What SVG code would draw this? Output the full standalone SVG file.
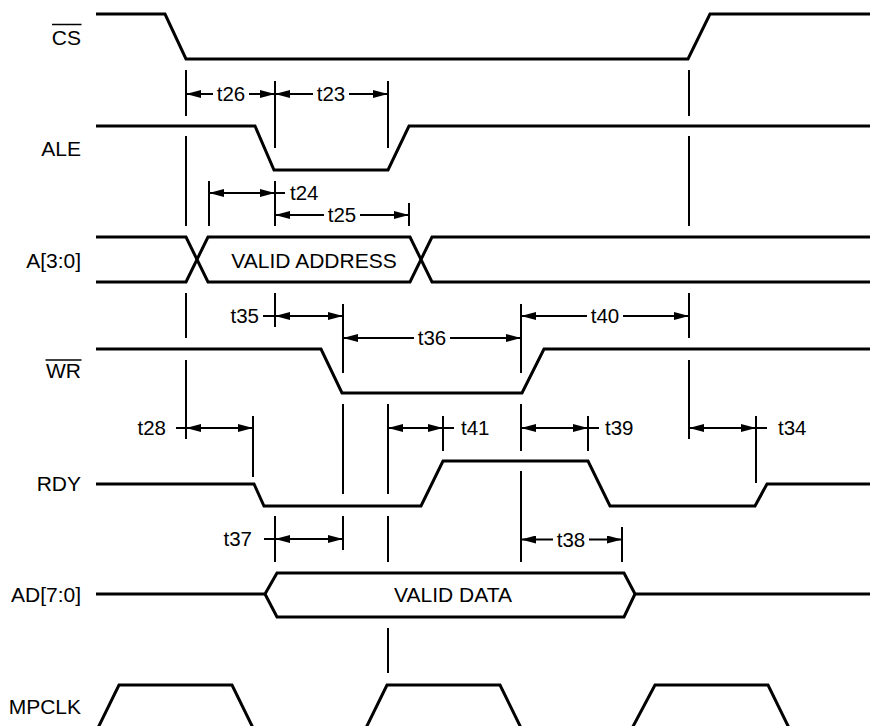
<svg xmlns="http://www.w3.org/2000/svg" width="870" height="726" viewBox="0 0 870 726">
<defs>
<style>
.sig{fill:none;stroke:#000;stroke-width:3;stroke-linejoin:miter}
.ref{fill:none;stroke:#000;stroke-width:2}
.dim{fill:none;stroke:#000;stroke-width:2}
.arr{marker-start:url(#ah);marker-end:url(#ah)}
.arrE{marker-end:url(#ah)}
.arrS{marker-start:url(#ah)}
.lbl{font-family:"Liberation Sans",Arial,sans-serif;font-size:21px;fill:#000}
.tl{font-family:"Liberation Sans",Arial,sans-serif;font-size:20.5px;fill:#000}
.ov{stroke:#000;stroke-width:1.5}
</style>
<marker id="ah" viewBox="0 0 15 8" refX="15" refY="4" markerWidth="15" markerHeight="8" markerUnits="userSpaceOnUse" orient="auto-start-reverse">
<path d="M0,0 L15,4 L0,8 z" fill="#000"/>
</marker>
</defs>
<rect width="870" height="726" fill="#fff"/>

<g id="cs">
<text class="lbl" x="81" y="45" text-anchor="end">CS</text>
<line class="ov" x1="52" y1="24.5" x2="81.5" y2="24.5"/>
<path class="sig" d="M96,14 H165 L186,59 H688 L710,14 H870"/>
</g>
<g id="ale">
<text class="lbl" x="81" y="156" text-anchor="end">ALE</text>
<path class="sig" d="M96,126 H255 L274,170 H388 L409,126 H870"/>
</g>
<g id="addr">
<text class="lbl" x="81" y="268" text-anchor="end">A[3:0]</text>
<path class="sig" d="M96,237 H186 L208,282 H410 L432,237 H870"/>
<path class="sig" d="M96,282 H186 L208,237 H410 L432,282 H870"/>
<text class="lbl" x="314" y="268" text-anchor="middle">VALID ADDRESS</text>
</g>
<g id="wr">
<text class="lbl" x="81" y="378" text-anchor="end">WR</text>
<line class="ov" x1="45.5" y1="360" x2="81.5" y2="360"/>
<path class="sig" d="M96,349 H321 L342,393 H522 L544,349 H870"/>
</g>
<g id="rdy">
<text class="lbl" x="81" y="490.5" text-anchor="end">RDY</text>
<path class="sig" d="M96,484 H254 L264,506 H421 L443,461 H588 L610,506 H755 L767,484 H870"/>
</g>
<g id="ad">
<text class="lbl" x="81" y="601.5" text-anchor="end">AD[7:0]</text>
<path class="sig" d="M96,594 H265 L277,573 H624 L635,594 H870"/>
<path class="sig" d="M265,594 L277,617 H624 L635,594"/>
<text class="lbl" x="453" y="601.5" text-anchor="middle">VALID DATA</text>
</g>
<g id="mpclk">
<text class="lbl" x="81" y="714" text-anchor="end">MPCLK</text>
<path class="sig" d="M95,734 L119,685 H232 L256,734"/>
<path class="sig" d="M363,734 L387,685 H500 L524,734"/>
<path class="sig" d="M629,734 L655,685 H768 L792,734"/>
</g>

<g id="connectors">
<path class="ref" d="M186,70 V116 M186,136 V226 M186,293 V338 M186,360 V439
M689,70 V116 M689,136 V226 M689,293 V338 M689,360 V439
M275,81 V148 M275,181 V226 M275,293 V327 M275,516 V562
M388,81 V148 M388,404 V494 M388,516 V562 M388,628 V673
M209,181 V226 M409,203 V226
M343,304 V373 M343,404 V494 M343,516 V550
M521,304 V373 M521,404 V451 M521,471 V562
M253,416 V477 M443,416 V451 M588,416 V451 M756,416 V483 M622,527 V562"/>

<!-- t26 -->
<line class="dim arrS" x1="186" y1="94" x2="213" y2="94"/>
<line class="dim arrE" x1="249" y1="94" x2="275" y2="94"/>
<text class="tl" x="231" y="101" text-anchor="middle">t26</text>
<!-- t23 -->
<line class="dim arrS" x1="275" y1="94" x2="313" y2="94"/>
<line class="dim arrE" x1="349" y1="94" x2="388" y2="94"/>
<text class="tl" x="331" y="101" text-anchor="middle">t23</text>
<!-- t24 -->
<line class="dim arr" x1="209" y1="193" x2="275" y2="193"/>
<line class="dim" x1="275" y1="193" x2="285" y2="193"/>
<text class="tl" x="290" y="200">t24</text>
<!-- t25 -->
<line class="dim arrS" x1="275" y1="215" x2="324" y2="215"/>
<line class="dim arrE" x1="360" y1="215" x2="409" y2="215"/>
<text class="tl" x="342" y="222" text-anchor="middle">t25</text>
<!-- t35 -->
<line class="dim arr" x1="275" y1="316" x2="343" y2="316"/>
<line class="dim" x1="263" y1="316" x2="275" y2="316"/>
<text class="tl" x="259" y="323" text-anchor="end">t35</text>
<!-- t36 -->
<line class="dim arrS" x1="343" y1="338" x2="414" y2="338"/>
<line class="dim arrE" x1="450" y1="338" x2="521" y2="338"/>
<text class="tl" x="432" y="345" text-anchor="middle">t36</text>
<!-- t40 -->
<line class="dim arrS" x1="521" y1="316" x2="587" y2="316"/>
<line class="dim arrE" x1="623" y1="316" x2="689" y2="316"/>
<text class="tl" x="605" y="323" text-anchor="middle">t40</text>
<!-- t28 -->
<line class="dim arr" x1="186" y1="428" x2="253" y2="428"/>
<line class="dim" x1="176" y1="428" x2="186" y2="428"/>
<text class="tl" x="166" y="435" text-anchor="end">t28</text>
<!-- t41 -->
<line class="dim arr" x1="388" y1="428" x2="443" y2="428"/>
<line class="dim" x1="443" y1="428" x2="454" y2="428"/>
<text class="tl" x="461" y="435">t41</text>
<!-- t39 -->
<line class="dim arr" x1="521" y1="428" x2="588" y2="428"/>
<line class="dim" x1="588" y1="428" x2="599" y2="428"/>
<text class="tl" x="605" y="435">t39</text>
<!-- t34 -->
<line class="dim arr" x1="689" y1="428" x2="756" y2="428"/>
<line class="dim" x1="756" y1="428" x2="767" y2="428"/>
<text class="tl" x="778" y="435">t34</text>
<!-- t37 -->
<line class="dim arr" x1="275" y1="539" x2="343" y2="539"/>
<line class="dim" x1="264" y1="539" x2="275" y2="539"/>
<text class="tl" x="252" y="546" text-anchor="end">t37</text>
<!-- t38 -->
<line class="dim arrS" x1="521" y1="539.5" x2="553" y2="539.5"/>
<line class="dim arrE" x1="589" y1="539.5" x2="622" y2="539.5"/>
<text class="tl" x="571" y="546.5" text-anchor="middle">t38</text>
</g>
</svg>
